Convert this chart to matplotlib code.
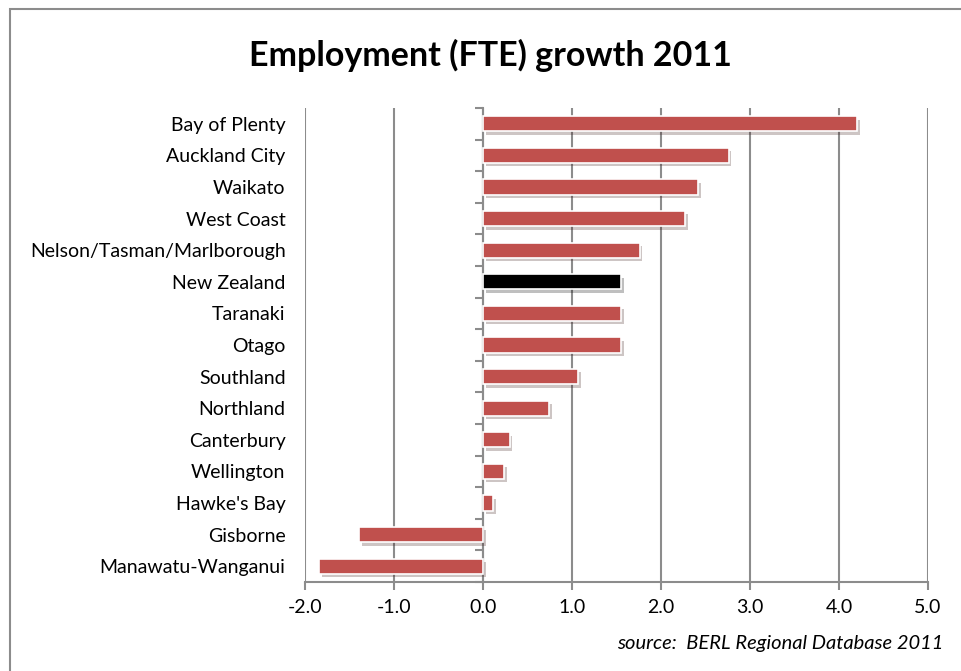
import matplotlib.pyplot as plt
import matplotlib.patheffects as pe
from matplotlib.patches import Rectangle

regions = ["Bay of Plenty", "Auckland City", "Waikato", "West Coast",
           "Nelson/Tasman/Marlborough", "New Zealand", "Taranaki", "Otago",
           "Southland", "Northland", "Canterbury", "Wellington",
           "Hawke's Bay", "Gisborne", "Manawatu-Wanganui"]
growth = [4.20, 2.76, 2.42, 2.27, 1.76, 1.55, 1.55, 1.55,
          1.07, 0.74, 0.30, 0.24, 0.11, -1.39, -1.84]
x_ticks = [-2.0, -1.0, 0.0, 1.0, 2.0, 3.0, 4.0, 5.0]

plt.rcParams['font.family'] = ['Lato', 'DejaVu Sans']

fig = plt.figure(figsize=(9.62, 6.71), dpi=100)
ax = fig.add_axes([305 / 962, 1 - 582 / 671, 623 / 962, 474 / 671])

# outer chart frame
fig.patches.append(Rectangle((10 / 962, -0.05), 960 / 962, 1 - 9 / 671 + 0.05,
                             transform=fig.transFigure, fill=False,
                             edgecolor="#8c8c8c", linewidth=1.5))

colors = ["black" if r == "New Zealand" else "#C0504D" for r in regions]
ypos = list(range(len(regions)))
bars = ax.barh(ypos, growth, height=0.48, color=colors, edgecolor="white",
               linewidth=1.2, zorder=3)
for b in bars:
    b.set_path_effects([pe.SimplePatchShadow(offset=(2, -2.5), alpha=0.25),
                        pe.Normal()])

ax.set_ylim(len(regions) - 0.5, -0.5)
ax.set_xlim(-2, 5)
ax.set_xticks(x_ticks)
ax.set_xticklabels([f"{v:.1f}" for v in x_ticks], fontsize=14)
ax.set_yticks(ypos)
ax.set_yticklabels(regions, fontsize=14)
ax.tick_params(axis="y", length=0, pad=14)
ax.tick_params(axis="x", length=6, color="#8c8c8c", width=1.5, pad=6)

ax.grid(axis="x", color="#8c8c8c", linewidth=1.5, zorder=0)
ax.set_axisbelow(True)
for s in ["top", "right", "left"]:
    ax.spines[s].set_visible(False)
ax.spines["bottom"].set_color("#8c8c8c")
ax.spines["bottom"].set_linewidth(1.5)

# category axis drawn at zero
sec = ax.secondary_yaxis(2 / 7)
sec.set_yticks([i - 0.5 for i in range(len(regions) + 1)])
sec.set_yticklabels([])
sec.tick_params(length=6, color="#8c8c8c", width=1.5)
sec.spines["left"].set_color("#8c8c8c")
sec.spines["left"].set_linewidth(1.5)

fig.text(490 / 962, 1 - 55 / 671, "Employment (FTE) growth 2011",
         ha="center", va="center", fontsize=24.5, fontweight="bold")
fig.text(943 / 962, 1 - 644 / 671, "source:  BERL Regional Database 2011",
         ha="right", va="center", fontsize=14.5, style="italic")

fig.savefig("out.png", dpi=100)
